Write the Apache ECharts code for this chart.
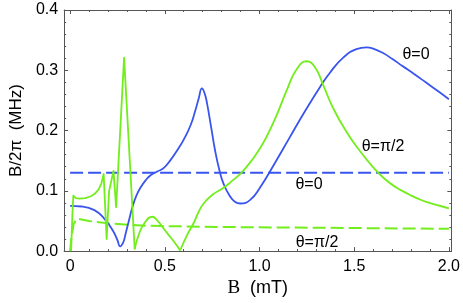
<!DOCTYPE html>
<html>
<head>
<meta charset="utf-8">
<script src="https://cdn.jsdelivr.net/npm/echarts@6/dist/echarts.min.js"></script>
<style>html,body{margin:0;padding:0;background:#fff}#c{width:463px;height:303px}</style>
</head>
<body>
<div id="c"></div>
<script>
const xMajorTicks = [0, 0.5, 1.0, 1.5, 2.0];
const xMinorTicks = [0.1,0.2,0.3,0.4,0.6,0.7,0.8,0.9,1.1,1.2,1.3,1.4,1.6,1.7,1.8,1.9];
const xTickLabels = ['0', '0.5', '1.0', '1.5', '2.0'];

const blueSolid = [[0,0.075],[0.06,0.074],[0.128,0.068],[0.18,0.054],[0.224,0.035],[0.25,0.018],[0.264,0.008],[0.28,0.014],[0.294,0.03],[0.31,0.05],[0.329,0.073],[0.35,0.092],[0.373,0.106],[0.4,0.118],[0.425,0.126],[0.46,0.132],[0.495,0.138],[0.53,0.151],[0.565,0.167],[0.6,0.185],[0.635,0.208],[0.66,0.232],[0.679,0.253],[0.696,0.27],[0.71,0.262],[0.723,0.245],[0.745,0.205],[0.766,0.166],[0.79,0.132],[0.81,0.112],[0.84,0.093],[0.87,0.082],[0.899,0.079],[0.951,0.085],[1.004,0.106],[1.083,0.147],[1.162,0.19],[1.24,0.232],[1.319,0.272],[1.372,0.296],[1.442,0.321],[1.512,0.335],[1.565,0.338],[1.6,0.336],[1.65,0.329],[1.7,0.319],[1.755,0.307],[1.82,0.293],[1.878,0.28],[1.94,0.266],[2.0,0.252]];

const greenSolidA = [[0.005,0],[0.012,0.06],[0.017,0.092],[0.03,0.088],[0.05,0.087],[0.08,0.088],[0.11,0.091],[0.13,0.095],[0.15,0.102],[0.165,0.112],[0.177,0.128],[0.193,0.02],[0.206,0.1],[0.229,0.133],[0.243,0.073],[0.285,0.321],[0.341,0.003]];
const greenSolidB = [[0.341,0.003],[0.36,0.025],[0.39,0.045],[0.434,0.057],[0.46,0.051],[0.49,0.039],[0.52,0.027],[0.55,0.015],[0.581,0.001]];
const greenSolidC = [[0.581,0.001],[0.615,0.025],[0.653,0.047],[0.68,0.066],[0.705,0.079],[0.75,0.093],[0.81,0.105],[0.846,0.114],[0.916,0.134],[1.004,0.171],[1.083,0.22],[1.144,0.267],[1.197,0.302],[1.249,0.315],[1.293,0.305],[1.337,0.275],[1.389,0.237],[1.459,0.198],[1.53,0.166],[1.603,0.138],[1.66,0.12],[1.72,0.106],[1.79,0.094],[1.86,0.084],[1.93,0.077],[2.0,0.071]];

const blueDashed = [[0,0.13],[2.0,0.13]];
const greenDashed = [[0,0],[0.008,0.025],[0.018,0.044],[0.035,0.054],[0.1,0.05],[0.2,0.046],[0.4,0.042],[0.8,0.04],[1.2,0.039],[1.6,0.038],[2.0,0.037]];

const curveLabels = [
  {text:'θ=0', x:416, y:55},
  {text:'θ=π/2', x:383, y:147},
  {text:'θ=0', x:309, y:185},
  {text:'θ=π/2', x:317, y:243}
];

const BLUE = '#3a55ee';
const GREEN = '#72ee1c';
const FRAME = '#555';
const xMin = -0.0315, xMax = 2.013;

const chart = echarts.init(document.getElementById('c'), null, {renderer:'canvas'});

function xAxisDef(pos, ticks, len, showLine, showLabel) {
  return {
    type:'value', position:pos, min:xMin, max:xMax,
    axisLine:{show:showLine, onZero:false, lineStyle:{color:FRAME, width:1}},
    axisTick:{show:true, inside:true, length:len, customValues:ticks, lineStyle:{color:FRAME}},
    axisLabel:{show:showLabel, customValues:xMajorTicks, color:'#000', fontSize:16, fontFamily:'Liberation Sans, Arial, sans-serif', margin:7,
      formatter:(v)=>{const i=xMajorTicks.findIndex(t=>Math.abs(t-v)<1e-6);return i>=0?xTickLabels[i]:'';}},
    splitLine:{show:false},
    name: showLabel ? '{b|B}  (mT)' : '',
    nameLocation:'middle', nameGap:27,
    nameTextStyle:{color:'#000', fontSize:18, fontFamily:'Liberation Sans, Arial, sans-serif',
      rich:{b:{fontFamily:'Liberation Serif, Times New Roman, serif', fontSize:19, color:'#000'}}}
  };
}
function yAxisDef(pos, showLabel) {
  return {
    type:'value', position:pos, min:0, max:0.4, interval:0.1,
    axisLine:{show:true, onZero:false, lineStyle:{color:FRAME, width:1}},
    axisTick:{show:true, inside:true, length:4, lineStyle:{color:FRAME}},
    minorTick:{show:true, splitNumber:5, length:2, lineStyle:{color:FRAME}},
    axisLabel:{show:showLabel, color:'#000', fontSize:16, fontFamily:'Liberation Sans, Arial, sans-serif', margin:6,
      formatter:(v)=>v.toFixed(1)},
    splitLine:{show:false},
    name: showLabel ? 'B/2π  (MHz)' : '',
    nameLocation:'middle', nameGap:38, nameRotate:90,
    nameTextStyle:{color:'#000', fontSize:17, fontFamily:'Liberation Sans, Arial, sans-serif'}
  };
}

const lineBase = {type:'line', showSymbol:false, symbol:'none', animation:false, xAxisIndex:0, yAxisIndex:0};

chart.setOption({
  animation:false,
  backgroundColor:'#fff',
  grid:{left:63, right:11, top:10, bottom:48, containLabel:false},
  xAxis:[
    xAxisDef('bottom', xMajorTicks, 4, true, true),
    xAxisDef('bottom', xMinorTicks, 2, false, false),
    xAxisDef('top', xMajorTicks, 4, true, false),
    xAxisDef('top', xMinorTicks, 2, false, false)
  ],
  yAxis:[ yAxisDef('left', true), yAxisDef('right', false) ],
  series:[
    Object.assign({}, lineBase, {name:'greenDashed', data:greenDashed, lineStyle:{color:GREEN, width:2, type:[13,5]}}),
    Object.assign({}, lineBase, {name:'blueDashed', data:blueDashed, lineStyle:{color:BLUE, width:2, type:[13,5]}}),
    Object.assign({}, lineBase, {name:'blueSolid', data:blueSolid, smooth:0.5, lineStyle:{color:BLUE, width:1.8}}),
    Object.assign({}, lineBase, {name:'greenSolidA', data:greenSolidA, lineStyle:{color:GREEN, width:1.8, join:'round'}}),
    Object.assign({}, lineBase, {name:'greenSolidB', data:greenSolidB, smooth:0.5, lineStyle:{color:GREEN, width:1.8}}),
    Object.assign({}, lineBase, {name:'greenSolidC', data:greenSolidC, smooth:0.5, lineStyle:{color:GREEN, width:1.8}})
  ],
  graphic: curveLabels.map(l=>({type:'text', x:l.x, y:l.y, style:{text:l.text, fill:'#000', fontSize:16,
    fontFamily:'Liberation Sans, Arial, sans-serif', align:'center', verticalAlign:'middle'}}))
});
</script>
</body>
</html>
